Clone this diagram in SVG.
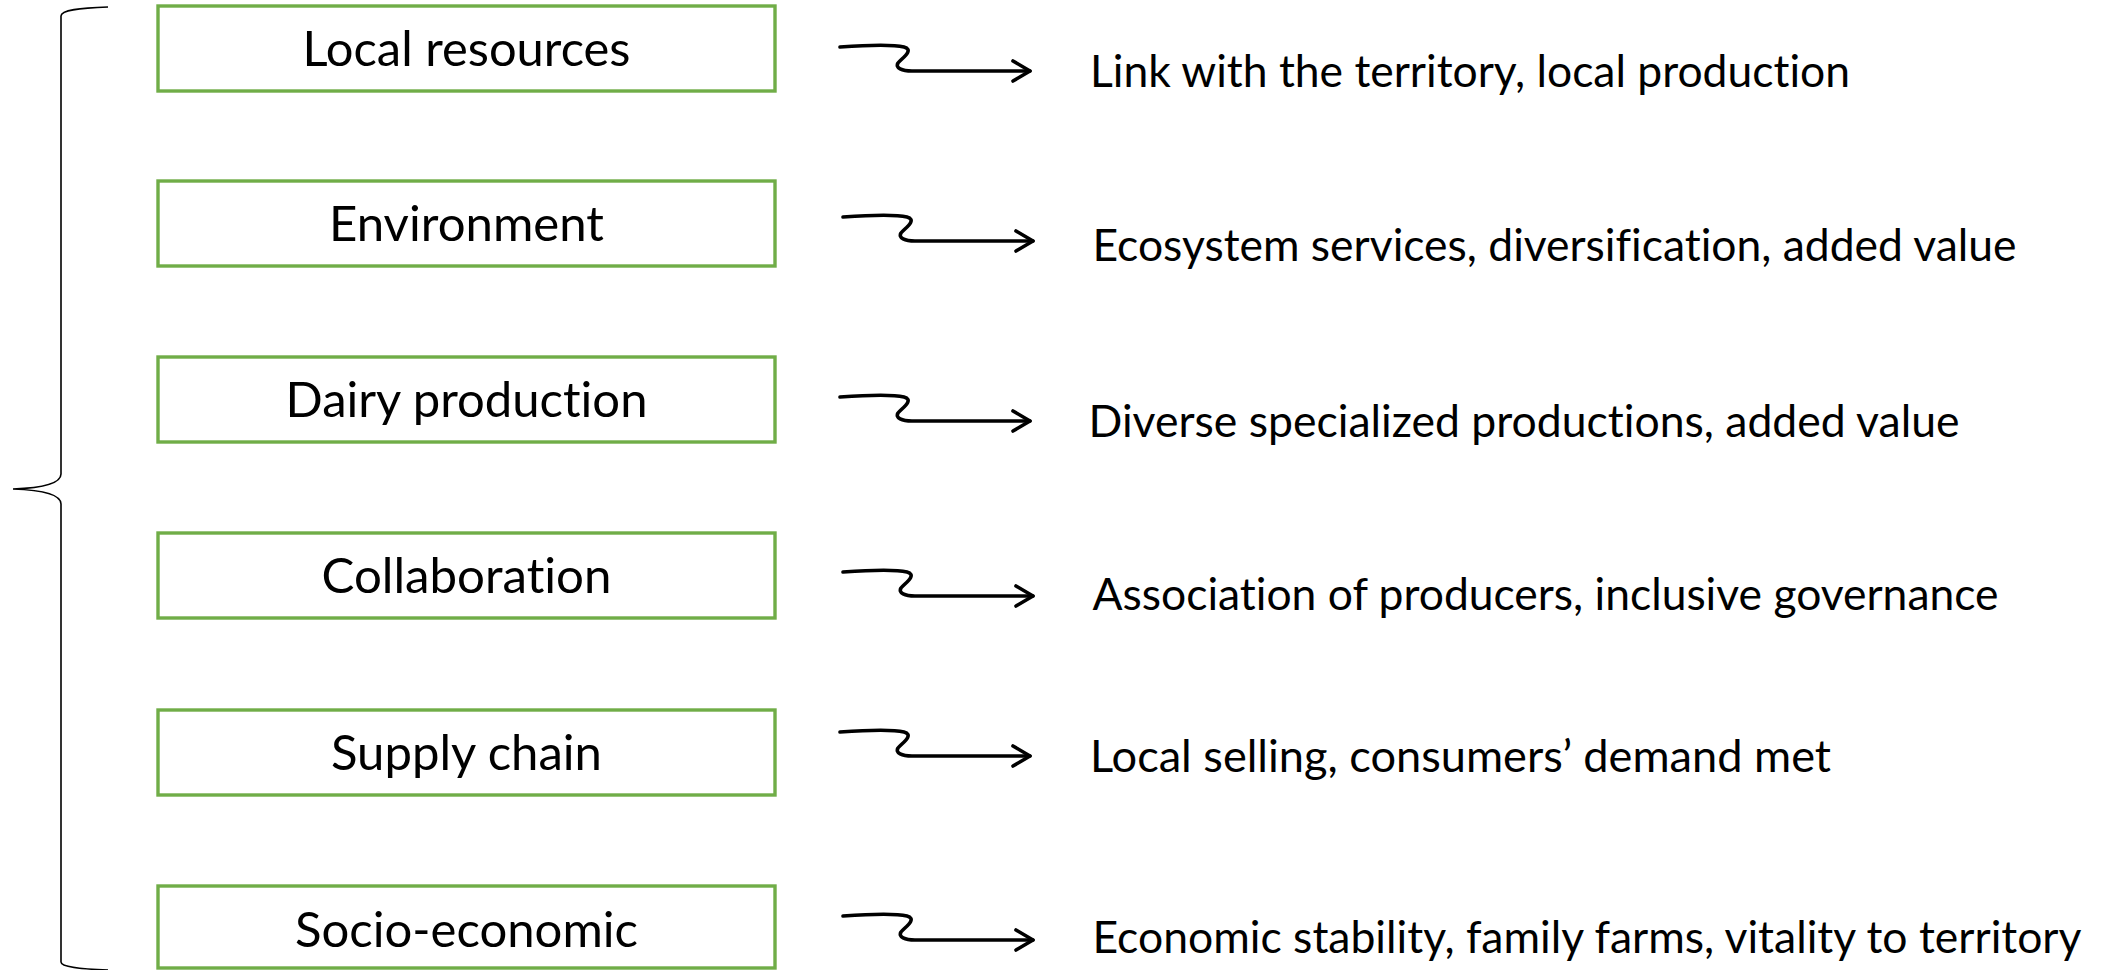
<svg xmlns="http://www.w3.org/2000/svg" width="2102" height="970" viewBox="0 0 2102 970">
<style>
.box{fill:#fff;stroke:#70AD47;stroke-width:3.4}
.bt{font-family:Lato,"Open Sans","Liberation Sans",sans-serif;font-size:49px;fill:#000;text-anchor:middle;font-variant-ligatures:none;font-feature-settings:"liga" 0,"clig" 0,"dlig" 0}
.rt{font-family:Lato,"Open Sans","Liberation Sans",sans-serif;font-size:44px;fill:#000;font-variant-ligatures:none;font-feature-settings:"liga" 0,"clig" 0,"dlig" 0}
.arr{fill:none;stroke:#000;stroke-width:3.6;stroke-linecap:round;stroke-linejoin:round}
.brace{fill:none;stroke:#000;stroke-width:1.6}
</style>
<defs>
<g id="arrow">
<path class="arr" d="M0,0 C27,-2 52,-3 64,0 C75,3 61,12 58,16 C55,21 62,24 72,24 L190,24"/>
<path class="arr" d="M173,14 L190,24 L173,34"/>
</g>
</defs>
<g id="brace"><path class="brace" d="M108,7 C80,8 61,10 61,16 L61,474 C61,484 40,488 13,489 C40,490 61,494 61,504 L61,962 C61,967 80,969 108,970"/></g>
<g id="node-local-resources"><rect class="box" x="158" y="6" width="617" height="85"/><text class="bt" x="466.5" y="66" textLength="328" lengthAdjust="spacingAndGlyphs">Local resources</text></g>
<g id="node-environment"><rect class="box" x="158" y="181" width="617" height="85"/><text class="bt" x="466.5" y="241" textLength="275" lengthAdjust="spacingAndGlyphs">Environment</text></g>
<g id="node-dairy-production"><rect class="box" x="158" y="357" width="617" height="85"/><text class="bt" x="466.5" y="417" textLength="362" lengthAdjust="spacingAndGlyphs">Dairy production</text></g>
<g id="node-collaboration"><rect class="box" x="158" y="533" width="617" height="85"/><text class="bt" x="466.5" y="593" textLength="290" lengthAdjust="spacingAndGlyphs">Collaboration</text></g>
<g id="node-supply-chain"><rect class="box" x="158" y="710" width="617" height="85"/><text class="bt" x="466.5" y="770" textLength="271" lengthAdjust="spacingAndGlyphs">Supply chain</text></g>
<g id="node-socio-economic"><rect class="box" x="158" y="886" width="617" height="82"/><text class="bt" x="466.5" y="947" textLength="343" lengthAdjust="spacingAndGlyphs">Socio-economic</text></g>
<g id="connectors">
<use href="#arrow" transform="translate(840,47)"/>
<use href="#arrow" transform="translate(843,217)"/>
<use href="#arrow" transform="translate(840,397)"/>
<use href="#arrow" transform="translate(843,572)"/>
<use href="#arrow" transform="translate(840,732)"/>
<use href="#arrow" transform="translate(843,916)"/>
</g>
<g id="outcomes">
<text class="rt" x="1090" y="86.5" textLength="760" lengthAdjust="spacingAndGlyphs">Link with the territory, local production</text>
<text class="rt" x="1092.5" y="260.5" textLength="924" lengthAdjust="spacingAndGlyphs">Ecosystem services, diversification, added value</text>
<text class="rt" x="1088.5" y="436.5" textLength="871" lengthAdjust="spacingAndGlyphs">Diverse specialized productions, added value</text>
<text class="rt" x="1092.5" y="609.5" textLength="906" lengthAdjust="spacingAndGlyphs">Association of producers, inclusive governance</text>
<text class="rt" x="1090" y="771.5" textLength="741" lengthAdjust="spacingAndGlyphs">Local selling, consumers’ demand met</text>
<text class="rt" x="1092.5" y="953" textLength="989" lengthAdjust="spacingAndGlyphs">Economic stability, family farms, vitality to territory</text>
</g>
</svg>
